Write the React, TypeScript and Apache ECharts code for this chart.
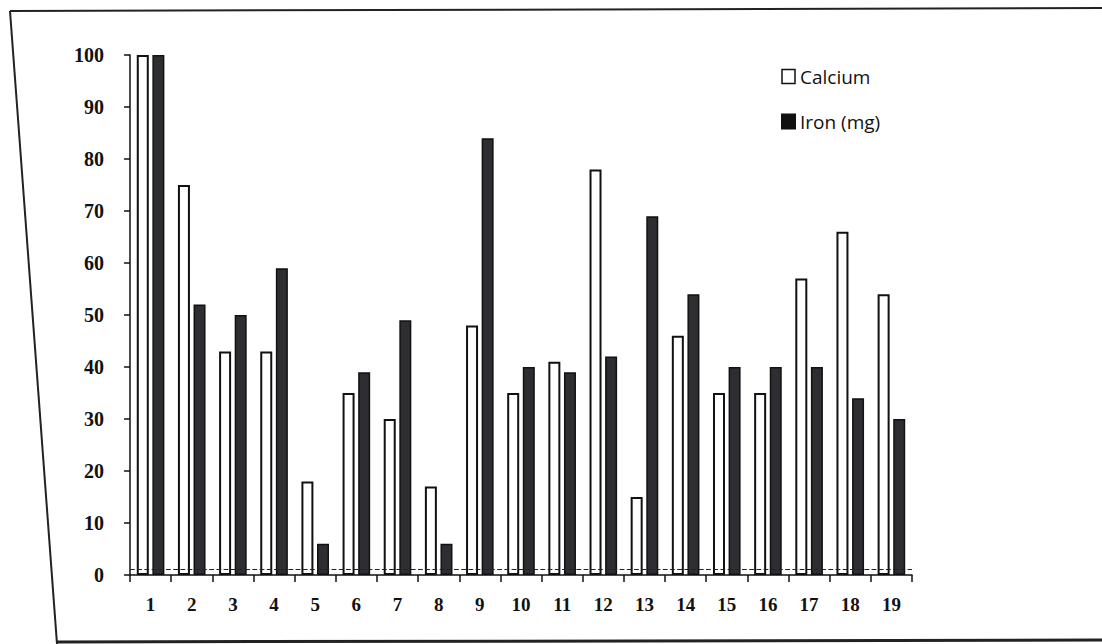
import React, { useEffect, useRef } from "react";
import * as echarts from "echarts";

const categories = ["1","2","3","4","5","6","7","8","9","10","11","12","13","14","15","16","17","18","19"];
const calcium = [100, 75, 43, 43, 18, 35, 30, 17, 48, 35, 41, 78, 15, 46, 35, 35, 57, 66, 54];
const iron = [100, 52, 50, 59, 6, 39, 49, 6, 84, 40, 39, 42, 69, 54, 40, 40, 40, 34, 30];
const seriesNames = ["Calcium", "Iron (mg)"];

export default function App() {
  const ref = useRef<HTMLDivElement>(null);
  useEffect(() => {
    if (!ref.current) return;
    const chart = echarts.init(ref.current, undefined, { renderer: "svg" });
    const serif = "'Liberation Serif', 'Times New Roman', serif";
    chart.setOption({
      animation: false,
      backgroundColor: "#ffffff",
      grid: { left: 130, right: 190, top: 55, bottom: 69, containLabel: false },
      legend: {
        orient: "vertical",
        left: 776,
        top: 62,
        icon: "rect",
        itemWidth: 13,
        itemHeight: 14,
        itemGap: 26,
        textStyle: { fontFamily: "'Liberation Sans Narrow', 'Open Sans', 'Noto Sans', sans-serif", fontSize: 19, color: "#111" },
        data: [
          { name: seriesNames[0], itemStyle: { color: "#fff", borderColor: "#111", borderWidth: 1.5 } },
          { name: seriesNames[1], itemStyle: { color: "#111", borderColor: "#111" } },
        ],
      },
      xAxis: {
        type: "category",
        data: categories,
        axisLine: { lineStyle: { color: "#111", width: 1.5 } },
        axisTick: { show: true, length: 7, lineStyle: { color: "#111", width: 1.5 } },
        axisLabel: { fontFamily: serif, fontWeight: "bold", fontSize: 19, color: "#111", margin: 20 },
        splitLine: { show: false },
      },
      yAxis: {
        type: "value",
        min: 0,
        max: 100,
        interval: 10,
        axisLine: { show: true, lineStyle: { color: "#111", width: 1.5 } },
        axisTick: { show: true, length: 6, lineStyle: { color: "#111", width: 1.5 } },
        axisLabel: { fontFamily: serif, fontWeight: "bold", fontSize: 20, color: "#111", margin: 26 },
        splitLine: { show: false },
      },
      series: [
        {
          name: seriesNames[0],
          type: "bar",
          data: calcium,
          barWidth: 12,
          barGap: "30%",
          itemStyle: { color: "#ffffff", borderColor: "#111", borderWidth: 2 },
          markLine: {
            silent: true,
            symbol: "none",
            label: { show: false },
            lineStyle: { type: "dashed", color: "#222", width: 1.2 },
            data: [{ yAxis: 1.2 }],
          },
        },
        {
          name: seriesNames[1],
          type: "bar",
          data: iron,
          barWidth: 12,
          itemStyle: { color: "#2e2e32", borderColor: "#111", borderWidth: 1.5 },
        },
      ],
      graphic: [
        { type: "line", shape: { x1: 10, y1: 11, x2: 1102, y2: 8 }, style: { stroke: "#222", lineWidth: 2 } },
        { type: "line", shape: { x1: 10, y1: 11, x2: 57, y2: 644 }, style: { stroke: "#222", lineWidth: 2 } },
        { type: "line", shape: { x1: 57, y1: 642, x2: 1102, y2: 640 }, style: { stroke: "#222", lineWidth: 3 } },
      ],
    });
    return () => chart.dispose();
  }, []);
  return (
    <div
      ref={ref}
      style={{ position: "fixed", left: 0, top: 0, width: 1102, height: 644 }}
    />
  );
}
